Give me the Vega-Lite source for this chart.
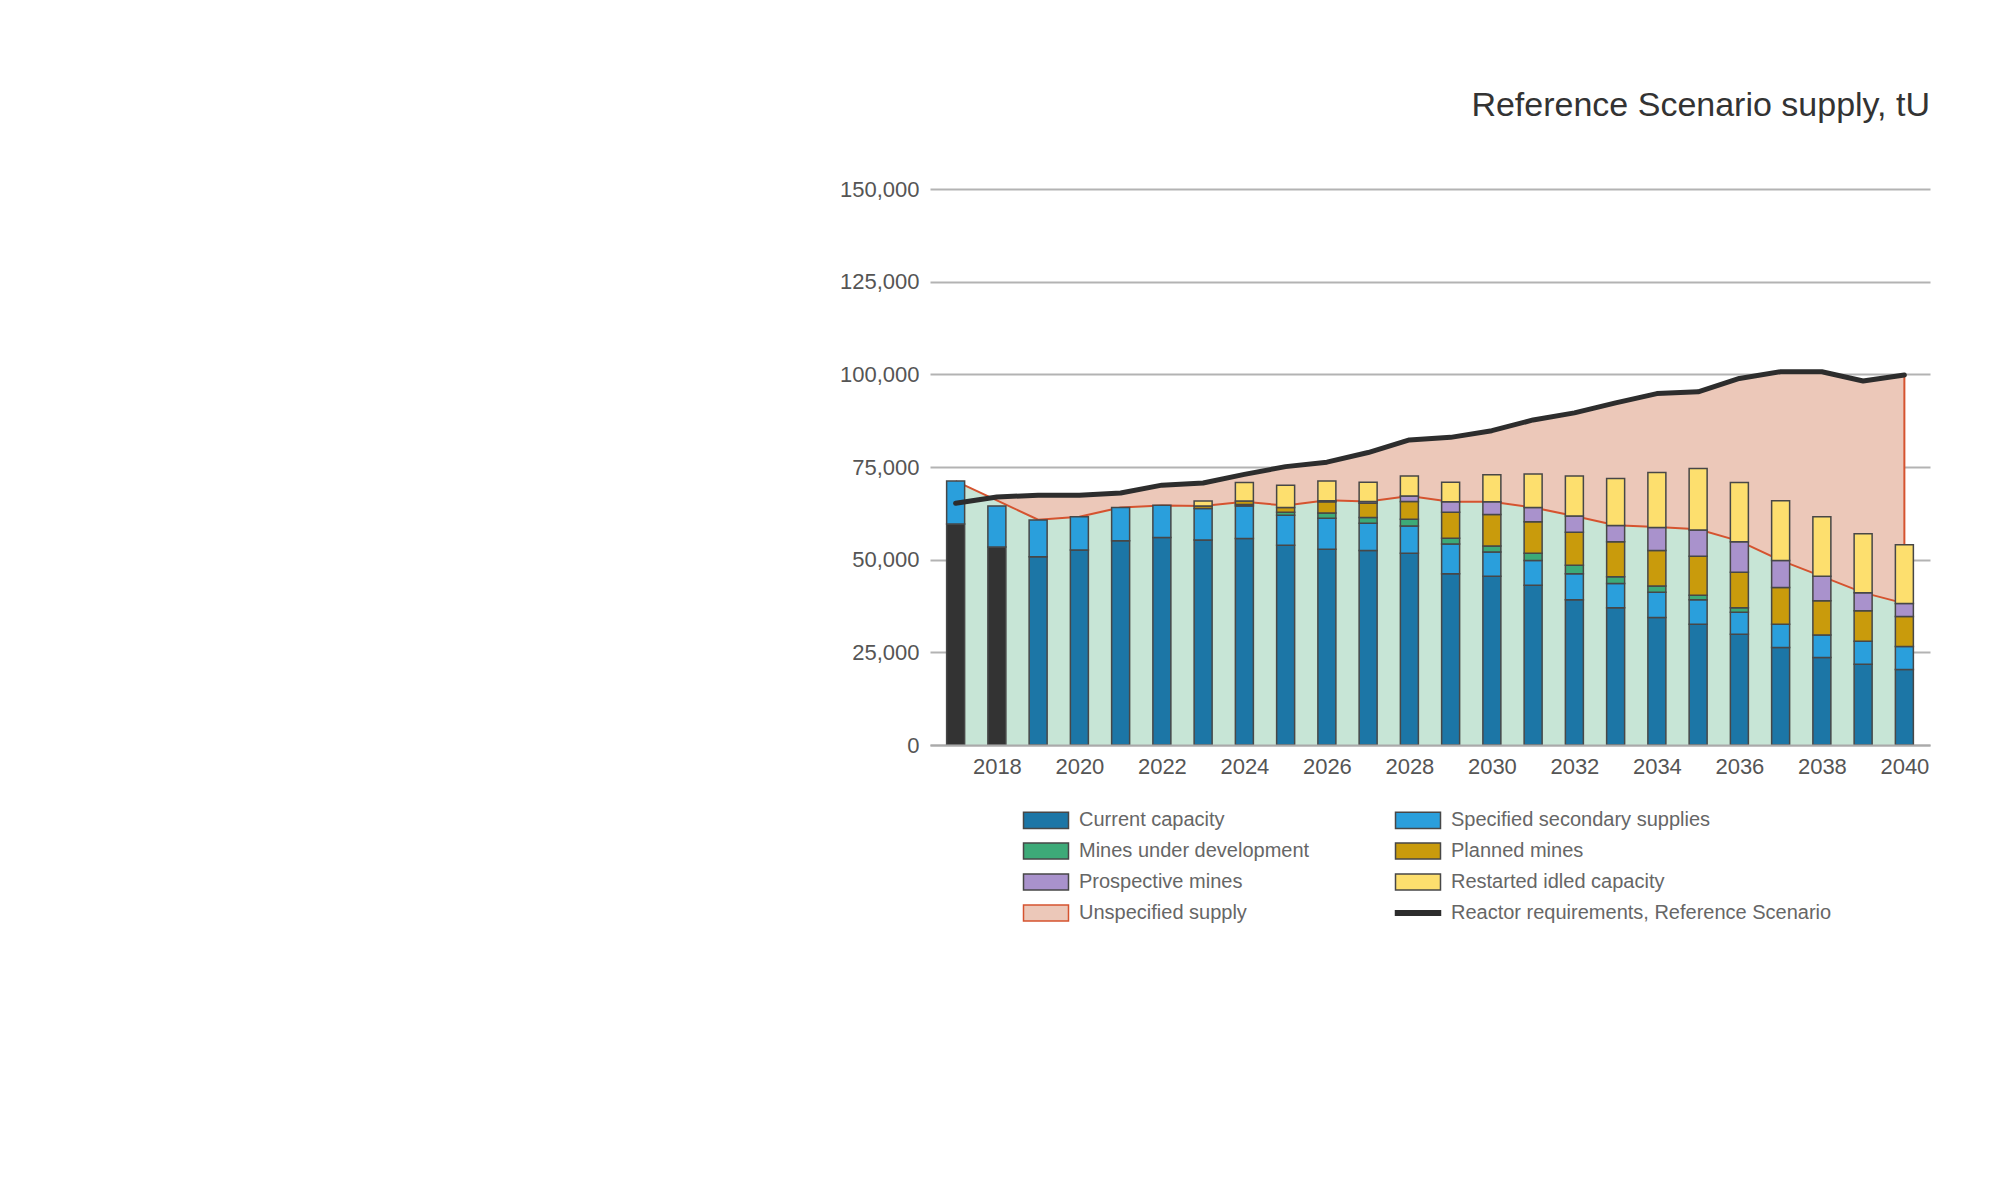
{
  "$schema": "https://vega.github.io/schema/vega-lite/v6.json",
  "width": 1000,
  "height": 556,
  "autosize": {"type": "none"},
  "padding": {"left": 930, "top": 189, "right": 76, "bottom": 435},
  "background": "white",
  "title": {
    "text": "Reference Scenario supply, tU",
    "anchor": "end",
    "fontSize": 34,
    "font": "Liberation Sans",
    "fontWeight": "normal",
    "color": "#333333",
    "baseline": "alphabetic",
    "offset": 28
  },
  "config": {
    "view": {"stroke": null},
    "font": "Liberation Sans",
    "axis": {"labelFont": "Liberation Sans", "labelColor": "#555555", "labelFontSize": 22, "ticks": false}
  },
  "datasets": {
    "bars": [
      {"year": 2017, "cat": "Production", "v": 59600},
      {"year": 2017, "cat": "Specified secondary supplies", "v": 11600},
      {"year": 2018, "cat": "Production", "v": 53400},
      {"year": 2018, "cat": "Specified secondary supplies", "v": 11100},
      {"year": 2019, "cat": "Current capacity", "v": 50800},
      {"year": 2019, "cat": "Specified secondary supplies", "v": 9900},
      {"year": 2020, "cat": "Current capacity", "v": 52600},
      {"year": 2020, "cat": "Specified secondary supplies", "v": 9000},
      {"year": 2021, "cat": "Current capacity", "v": 55100},
      {"year": 2021, "cat": "Specified secondary supplies", "v": 9000},
      {"year": 2022, "cat": "Current capacity", "v": 56000},
      {"year": 2022, "cat": "Specified secondary supplies", "v": 8700},
      {"year": 2023, "cat": "Current capacity", "v": 55300},
      {"year": 2023, "cat": "Specified secondary supplies", "v": 8500},
      {"year": 2023, "cat": "Planned mines", "v": 700},
      {"year": 2023, "cat": "Restarted idled capacity", "v": 1300},
      {"year": 2024, "cat": "Current capacity", "v": 55700},
      {"year": 2024, "cat": "Specified secondary supplies", "v": 8800},
      {"year": 2024, "cat": "Mines under development", "v": 400},
      {"year": 2024, "cat": "Planned mines", "v": 900},
      {"year": 2024, "cat": "Restarted idled capacity", "v": 5000},
      {"year": 2025, "cat": "Current capacity", "v": 53900},
      {"year": 2025, "cat": "Specified secondary supplies", "v": 8100},
      {"year": 2025, "cat": "Mines under development", "v": 800},
      {"year": 2025, "cat": "Planned mines", "v": 1300},
      {"year": 2025, "cat": "Restarted idled capacity", "v": 6000},
      {"year": 2026, "cat": "Current capacity", "v": 52800},
      {"year": 2026, "cat": "Specified secondary supplies", "v": 8400},
      {"year": 2026, "cat": "Mines under development", "v": 1400},
      {"year": 2026, "cat": "Planned mines", "v": 3000},
      {"year": 2026, "cat": "Prospective mines", "v": 300},
      {"year": 2026, "cat": "Restarted idled capacity", "v": 5300},
      {"year": 2027, "cat": "Current capacity", "v": 52500},
      {"year": 2027, "cat": "Specified secondary supplies", "v": 7300},
      {"year": 2027, "cat": "Mines under development", "v": 1600},
      {"year": 2027, "cat": "Planned mines", "v": 3800},
      {"year": 2027, "cat": "Prospective mines", "v": 500},
      {"year": 2027, "cat": "Restarted idled capacity", "v": 5200},
      {"year": 2028, "cat": "Current capacity", "v": 51700},
      {"year": 2028, "cat": "Specified secondary supplies", "v": 7400},
      {"year": 2028, "cat": "Mines under development", "v": 1800},
      {"year": 2028, "cat": "Planned mines", "v": 4800},
      {"year": 2028, "cat": "Prospective mines", "v": 1500},
      {"year": 2028, "cat": "Restarted idled capacity", "v": 5400},
      {"year": 2029, "cat": "Current capacity", "v": 46200},
      {"year": 2029, "cat": "Specified secondary supplies", "v": 8000},
      {"year": 2029, "cat": "Mines under development", "v": 1600},
      {"year": 2029, "cat": "Planned mines", "v": 7000},
      {"year": 2029, "cat": "Prospective mines", "v": 2800},
      {"year": 2029, "cat": "Restarted idled capacity", "v": 5300},
      {"year": 2030, "cat": "Current capacity", "v": 45500},
      {"year": 2030, "cat": "Specified secondary supplies", "v": 6600},
      {"year": 2030, "cat": "Mines under development", "v": 1600},
      {"year": 2030, "cat": "Planned mines", "v": 8500},
      {"year": 2030, "cat": "Prospective mines", "v": 3400},
      {"year": 2030, "cat": "Restarted idled capacity", "v": 7300},
      {"year": 2031, "cat": "Current capacity", "v": 43100},
      {"year": 2031, "cat": "Specified secondary supplies", "v": 6700},
      {"year": 2031, "cat": "Mines under development", "v": 1900},
      {"year": 2031, "cat": "Planned mines", "v": 8500},
      {"year": 2031, "cat": "Prospective mines", "v": 3900},
      {"year": 2031, "cat": "Restarted idled capacity", "v": 9000},
      {"year": 2032, "cat": "Current capacity", "v": 39200},
      {"year": 2032, "cat": "Specified secondary supplies", "v": 7000},
      {"year": 2032, "cat": "Mines under development", "v": 2300},
      {"year": 2032, "cat": "Planned mines", "v": 8900},
      {"year": 2032, "cat": "Prospective mines", "v": 4400},
      {"year": 2032, "cat": "Restarted idled capacity", "v": 10800},
      {"year": 2033, "cat": "Current capacity", "v": 37000},
      {"year": 2033, "cat": "Specified secondary supplies", "v": 6600},
      {"year": 2033, "cat": "Mines under development", "v": 1800},
      {"year": 2033, "cat": "Planned mines", "v": 9400},
      {"year": 2033, "cat": "Prospective mines", "v": 4400},
      {"year": 2033, "cat": "Restarted idled capacity", "v": 12700},
      {"year": 2034, "cat": "Current capacity", "v": 34400},
      {"year": 2034, "cat": "Specified secondary supplies", "v": 6800},
      {"year": 2034, "cat": "Mines under development", "v": 1700},
      {"year": 2034, "cat": "Planned mines", "v": 9600},
      {"year": 2034, "cat": "Prospective mines", "v": 6200},
      {"year": 2034, "cat": "Restarted idled capacity", "v": 14800},
      {"year": 2035, "cat": "Current capacity", "v": 32600},
      {"year": 2035, "cat": "Specified secondary supplies", "v": 6600},
      {"year": 2035, "cat": "Mines under development", "v": 1200},
      {"year": 2035, "cat": "Planned mines", "v": 10500},
      {"year": 2035, "cat": "Prospective mines", "v": 7100},
      {"year": 2035, "cat": "Restarted idled capacity", "v": 16600},
      {"year": 2036, "cat": "Current capacity", "v": 29900},
      {"year": 2036, "cat": "Specified secondary supplies", "v": 5900},
      {"year": 2036, "cat": "Mines under development", "v": 1200},
      {"year": 2036, "cat": "Planned mines", "v": 9600},
      {"year": 2036, "cat": "Prospective mines", "v": 8200},
      {"year": 2036, "cat": "Restarted idled capacity", "v": 16000},
      {"year": 2037, "cat": "Current capacity", "v": 26300},
      {"year": 2037, "cat": "Specified secondary supplies", "v": 6300},
      {"year": 2037, "cat": "Planned mines", "v": 9900},
      {"year": 2037, "cat": "Prospective mines", "v": 7300},
      {"year": 2037, "cat": "Restarted idled capacity", "v": 16100},
      {"year": 2038, "cat": "Current capacity", "v": 23600},
      {"year": 2038, "cat": "Specified secondary supplies", "v": 6100},
      {"year": 2038, "cat": "Planned mines", "v": 9200},
      {"year": 2038, "cat": "Prospective mines", "v": 6600},
      {"year": 2038, "cat": "Restarted idled capacity", "v": 16100},
      {"year": 2039, "cat": "Current capacity", "v": 21800},
      {"year": 2039, "cat": "Specified secondary supplies", "v": 6200},
      {"year": 2039, "cat": "Planned mines", "v": 8200},
      {"year": 2039, "cat": "Prospective mines", "v": 4900},
      {"year": 2039, "cat": "Restarted idled capacity", "v": 15900},
      {"year": 2040, "cat": "Current capacity", "v": 20400},
      {"year": 2040, "cat": "Specified secondary supplies", "v": 6200},
      {"year": 2040, "cat": "Planned mines", "v": 8100},
      {"year": 2040, "cat": "Prospective mines", "v": 3500},
      {"year": 2040, "cat": "Restarted idled capacity", "v": 15800}
    ],
    "lines": [
      {"year": 2017, "req": 65200, "supply": 71200},
      {"year": 2018, "req": 66900, "supply": 66000},
      {"year": 2019, "req": 67400, "supply": 60800},
      {"year": 2020, "req": 67400, "supply": 61600},
      {"year": 2021, "req": 68000, "supply": 64100},
      {"year": 2022, "req": 70100, "supply": 64600},
      {"year": 2023, "req": 70700, "supply": 64500},
      {"year": 2024, "req": 73000, "supply": 65600},
      {"year": 2025, "req": 75100, "supply": 64600},
      {"year": 2026, "req": 76300, "supply": 66000},
      {"year": 2027, "req": 78900, "supply": 65700},
      {"year": 2028, "req": 82300, "supply": 67200},
      {"year": 2029, "req": 83000, "supply": 65600},
      {"year": 2030, "req": 84800, "supply": 65600},
      {"year": 2031, "req": 87700, "supply": 64100},
      {"year": 2032, "req": 89600, "supply": 61800},
      {"year": 2033, "req": 92300, "supply": 59300},
      {"year": 2034, "req": 94800, "supply": 58800},
      {"year": 2035, "req": 95300, "supply": 58200},
      {"year": 2036, "req": 98900, "supply": 55000},
      {"year": 2037, "req": 100700, "supply": 49800},
      {"year": 2038, "req": 100700, "supply": 45500},
      {"year": 2039, "req": 98200, "supply": 41100},
      {"year": 2040, "req": 99800, "supply": 38200}
    ]
  },
  "encoding": {
    "x": {
      "field": "year",
      "type": "quantitative",
      "scale": {"domain": [2016.5, 2040.5], "nice": false, "zero": false},
      "axis": {
        "title": null,
        "values": [2018, 2020, 2022, 2024, 2026, 2028, 2030, 2032, 2034, 2036, 2038, 2040],
        "format": "d",
        "grid": false,
        "domain": true,
        "domainColor": "#aaaaaa",
        "domainWidth": 2,
        "labelPadding": 11,
        "zindex": 1
      }
    }
  },
  "layer": [
    {
      "data": {"name": "lines"},
      "mark": {"type": "area", "color": "#ecc8b9", "opacity": 1},
      "encoding": {
        "y": {
          "field": "req",
          "type": "quantitative",
          "scale": {"domain": [0, 150000], "nice": false},
          "axis": {
            "title": null,
            "values": [0, 25000, 50000, 75000, 100000, 125000, 150000],
            "format": ",.0f",
            "domain": false,
            "grid": true,
            "gridColor": "#b3b3b3",
            "gridWidth": 2,
            "labelPadding": 11
          }
        },
        "y2": {"field": "supply"}
      }
    },
    {
      "data": {"name": "lines"},
      "mark": {"type": "area", "color": "#c7e5d6", "opacity": 1},
      "encoding": {
        "y": {"field": "supply", "type": "quantitative"},
        "y2": {"datum": 0}
      }
    },
    {
      "data": {"name": "lines"},
      "mark": {"type": "line", "color": "#d5532f", "strokeWidth": 2},
      "encoding": {
        "y": {"field": "supply", "type": "quantitative"}
      }
    },
    {
      "data": {"name": "lines"},
      "transform": [{"filter": "datum.year === 2040"}],
      "mark": {"type": "rule", "color": "#d5532f", "strokeWidth": 2},
      "encoding": {
        "y": {"field": "supply", "type": "quantitative"},
        "y2": {"field": "req"}
      }
    },
    {
      "data": {"name": "bars"},
      "transform": [
        {"calculate": "indexof(['Production', 'Current capacity', 'Specified secondary supplies', 'Mines under development', 'Planned mines', 'Prospective mines', 'Restarted idled capacity'], datum.cat)", "as": "stackRank"}
      ],
      "mark": {"type": "bar", "width": 18, "stroke": "#474747", "strokeWidth": 1.5},
      "encoding": {
        "y": {"field": "v", "type": "quantitative", "stack": "zero"},
        "order": {"field": "stackRank", "type": "quantitative", "sort": "ascending"},
        "color": {
          "field": "cat",
          "type": "nominal",
          "scale": {
            "domain": ["Production", "Current capacity", "Specified secondary supplies", "Mines under development", "Planned mines", "Prospective mines", "Restarted idled capacity", "Unspecified supply", "Reactor requirements, Reference Scenario"],
            "range": ["#333333", "#1c76a6", "#2a9fdc", "#3daa78", "#c99b0c", "#a992cc", "#fddf6e", "#ecc8b9", "#2d2d2d"]
          },
          "legend": {
            "values": ["Current capacity", "Specified secondary supplies", "Mines under development", "Planned mines", "Prospective mines", "Restarted idled capacity", "Unspecified supply", "Reactor requirements, Reference Scenario"],
            "title": null,
            "orient": "none",
            "legendX": 104,
            "legendY": 619,
            "direction": "horizontal",
            "columns": 2,
            "columnPadding": 82,
            "rowPadding": 7,
            "padding": 0,
            "symbolType": "M-2,-0.72H2V0.72H-2Z",
            "symbolSize": 506,
            "symbolStrokeWidth": 1.5,
            "symbolStrokeColor": "#474747",
            "labelFont": "Liberation Sans",
            "labelFontSize": 20,
            "labelColor": "#666666",
            "labelOffset": 21,
            "labelLimit": 500,
            "encode": {
              "symbols": {
                "update": {
                  "shape": {"signal": "datum.value === 'Reactor requirements, Reference Scenario' ? 'M-2,-0.2H2V0.2H-2Z' : 'M-2,-0.72H2V0.72H-2Z'"},
                  "stroke": {"signal": "datum.value === 'Unspecified supply' ? '#d5532f' : (datum.value === 'Reactor requirements, Reference Scenario' ? '#2d2d2d' : '#474747')"},
                  "strokeWidth": {"value": 1.5},
                  "opacity": {"value": 1}
                }
              }
            }
          }
        }
      }
    },
    {
      "data": {"name": "lines"},
      "mark": {"type": "line", "color": "#2d2d2d", "strokeWidth": 5, "strokeJoin": "round", "strokeCap": "round"},
      "encoding": {
        "y": {"field": "req", "type": "quantitative"}
      }
    }
  ]
}
